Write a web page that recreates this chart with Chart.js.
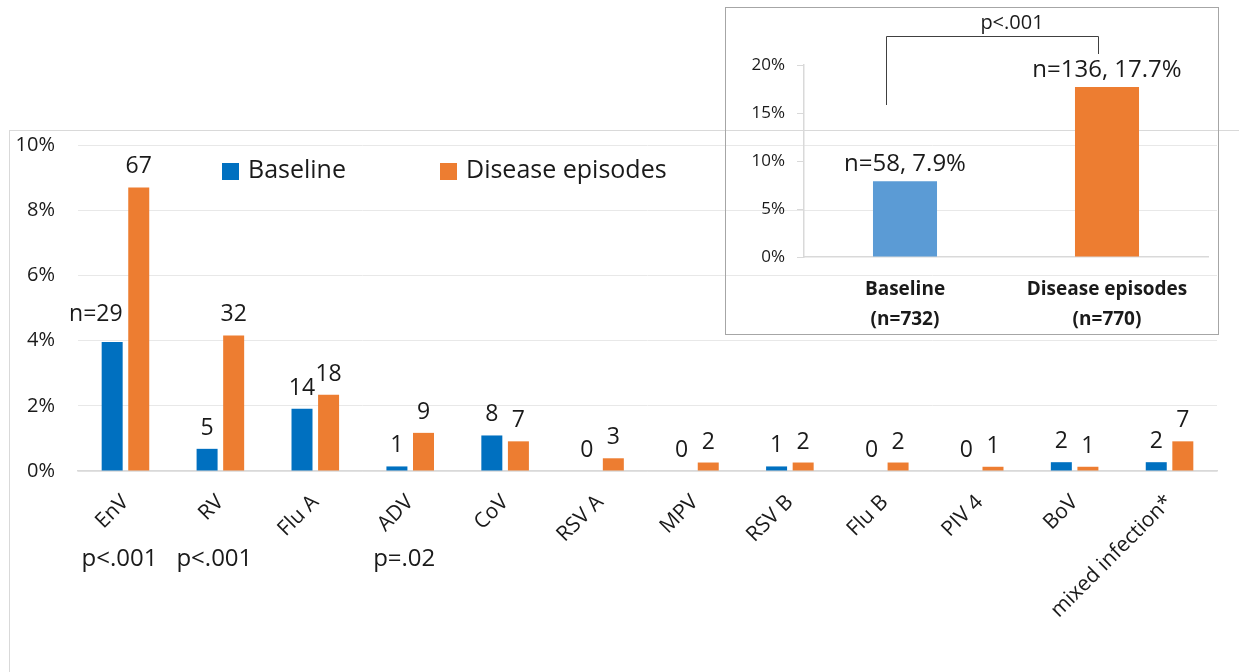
<!DOCTYPE html>
<html>
<head>
<meta charset="utf-8">
<script src="https://cdn.jsdelivr.net/npm/chart.js@4.4.1/dist/chart.umd.min.js"></script>
<style>
  html, body { margin:0; padding:0; background:#fff; }
  #wrap  { position:relative; width:1239px; height:672px; overflow:hidden; }
  #frame { position:absolute; left:9px; top:130px; width:1240px; height:560px;
           border-left:1px solid #d9d9d9; border-top:1px solid #d9d9d9; }
  #main  { position:absolute; left:0; top:0; }
  #inset-box { position:absolute; left:725px; top:7px; width:492px; height:326px;
               border:1.5px solid #a6a6a6; }
  #inset { position:absolute; left:0; top:0; }
</style>
</head>
<body>
<div id="wrap">
  <div id="frame"></div>
  <canvas id="main" width="1239" height="672"></canvas>
  <div id="inset-box"><canvas id="inset" width="492" height="326"></canvas></div>
</div>
<script>
/* ---- data: percentage of samples positive, per virus ---- */
const categories  = ['EnV','RV','Flu A','ADV','CoV','RSV A','MPV','RSV B','Flu B','PIV 4','BoV','mixed infection*'];
const baselinePct = [3.96, 0.68, 1.91, 0.14, 1.09, 0, 0, 0.14, 0, 0, 0.27, 0.27];
const episodePct  = [8.70, 4.16, 2.34, 1.17, 0.91, 0.39, 0.26, 0.26, 0.26, 0.13, 0.13, 0.91];
const baselineN   = ['n=29','5','14','1','8','0','0','1','0','0','2','2'];
const episodeN    = ['67','32','18','9','7','3','2','2','2','1','1','7'];
const pValues     = ['p<.001','p<.001','','p=.02','','','','','','','',''];
const seriesNames = ['Baseline','Disease episodes'];

/* ---- inset: any virus detected ---- */
const overallGroups = [['Baseline','(n=732)'], ['Disease episodes','(n=770)']];
const overallPct    = [7.9, 17.7];
const overallText   = ['n=58, 7.9%', 'n=136, 17.7%'];
const overallP      = 'p<.001';

const FONT  = "'Open Sans', sans-serif";
const INK   = '#1a1a1a';
const BLUE  = '#0070c0';
const ORANGE= '#ed7d31';

/* value labels, p-values and legend for the main chart */
const mainDecor = {
  id: 'mainDecor',
  afterDatasetsDraw(chart) {
    const ctx = chart.ctx;
    const texts = [baselineN, episodeN];
    ctx.save();
    ctx.fillStyle = INK;
    ctx.font = `23px ${FONT}`;
    ctx.textBaseline = 'alphabetic';
    [0, 1].forEach(di => {
      chart.getDatasetMeta(di).data.forEach((bar, i) => {
        const t = texts[di][i];
        const w = ctx.measureText(t).width;
        if (w > bar.width * 1.6) {
          ctx.textAlign = 'right';
          ctx.fillText(t, bar.x + bar.width / 2, bar.y - 21);
        } else {
          ctx.textAlign = 'center';
          ctx.fillText(t, bar.x, bar.y - 14);
        }
      });
    });

    /* p-values under the category labels */
    const xs = chart.scales.x;
    ctx.font = `24px ${FONT}`;
    ctx.textAlign = 'center';
    ctx.textBaseline = 'middle';
    pValues.forEach((p, i) => {
      if (p) ctx.fillText(p, xs.getPixelForValue(i) - 6, 559);
    });

    /* legend inside the plot */
    ctx.font = `25px ${FONT}`;
    ctx.textAlign = 'left';
    const items = [{ x: 222, c: BLUE }, { x: 440, c: ORANGE }];
    items.forEach((it, k) => {
      ctx.fillStyle = it.c;
      ctx.fillRect(it.x, 163, 17, 17);
      ctx.fillStyle = INK;
      ctx.fillText(seriesNames[k], it.x + 26, 171);
    });
    ctx.restore();
  }
};

new Chart(document.getElementById('main'), {
  type: 'bar',
  data: {
    labels: categories,
    datasets: [
      { label: seriesNames[0], data: baselinePct, backgroundColor: BLUE },
      { label: seriesNames[1], data: episodePct,  backgroundColor: ORANGE }
    ]
  },
  options: {
    responsive: false,
    animation: false,
    events: [],
    layout: { padding: { top: 145, right: 22, left: 0, bottom: 0 } },
    categoryPercentage: 0.56,
    barPercentage: 0.79,
    plugins: { legend: { display: false }, tooltip: { enabled: false } },
    scales: {
      x: {
        grid: { display: false },
        border: { display: true, color: '#d9d9d9', width: 1.5 },
        ticks: { color: INK, font: { family: FONT, size: 21 }, minRotation: 45, maxRotation: 45, autoSkip: false, padding: 11 },
        afterFit(s) { s.height = 672 - 471; }
      },
      y: {
        min: 0, max: 10,
        grid: { color: '#e8e8e8', drawTicks: false },
        border: { display: false },
        ticks: { stepSize: 2, color: INK, padding: 23, font: { family: FONT, size: 20 }, callback: v => v + '%' },
        afterFit(s) { s.width = 78; }
      }
    }
  },
  plugins: [mainDecor]
});

/* inset labels + significance bracket */
const insetDecor = {
  id: 'insetDecor',
  afterDatasetsDraw(chart) {
    const ctx = chart.ctx;
    const bars = chart.getDatasetMeta(0).data;
    ctx.save();
    ctx.fillStyle = INK;
    ctx.font = `24px ${FONT}`;
    ctx.textAlign = 'center';
    ctx.textBaseline = 'alphabetic';
    bars.forEach((bar, i) => ctx.fillText(overallText[i], bar.x, bar.y - 10));

    const xl = bars[0].x - 19, xr = bars[1].x - 9;
    ctx.strokeStyle = '#404040';
    ctx.lineWidth = 1;
    ctx.beginPath();
    ctx.moveTo(xl + 0.5, 97);
    ctx.lineTo(xl + 0.5, 28.5);
    ctx.lineTo(xr + 0.5, 28.5);
    ctx.lineTo(xr + 0.5, 46);
    ctx.stroke();
    ctx.font = `20px ${FONT}`;
    ctx.textBaseline = 'middle';
    ctx.fillText(overallP, (xl + xr) / 2 + 20, 15);
    ctx.restore();
  }
};

new Chart(document.getElementById('inset'), {
  type: 'bar',
  data: {
    labels: overallGroups,
    datasets: [{ data: overallPct, backgroundColor: ['#5b9bd5', ORANGE] }]
  },
  options: {
    responsive: false,
    animation: false,
    events: [],
    layout: { padding: { top: 57, right: 10, left: 0, bottom: 0 } },
    categoryPercentage: 0.317,
    barPercentage: 1,
    plugins: { legend: { display: false }, tooltip: { enabled: false } },
    scales: {
      x: {
        grid: { display: false },
        border: { display: true, color: '#d9d9d9', width: 1.5 },
        ticks: { color: INK, padding: 10, font: { family: FONT, size: 19, weight: 'bold', lineHeight: 1.55 } },
        afterFit(s) { s.height = 326 - 249; }
      },
      y: {
        min: 0, max: 20,
        grid: { display: true, drawOnChartArea: false, drawTicks: true, tickLength: 7, color: '#d9d9d9' },
        border: { display: true, color: '#d9d9d9', width: 1.5 },
        ticks: { stepSize: 5, color: INK, padding: 12, font: { family: FONT, size: 17 }, callback: v => v + '%' },
        afterFit(s) { s.width = 78; }
      }
    }
  },
  plugins: [insetDecor]
});
</script>
</body>
</html>
